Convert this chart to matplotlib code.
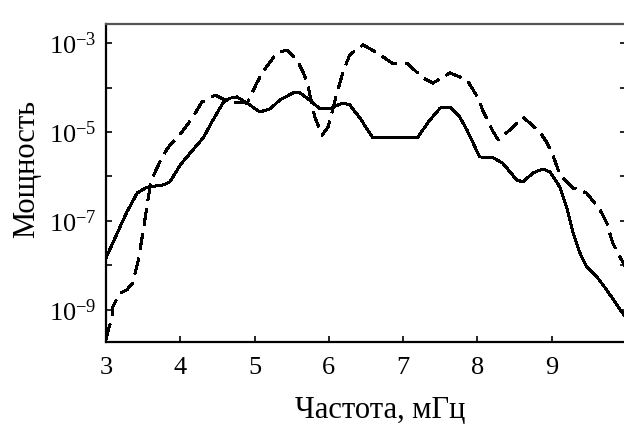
import matplotlib
matplotlib.use('Agg')
import numpy as np
import matplotlib.pyplot as plt
from matplotlib.ticker import FixedLocator, FuncFormatter

plt.rcParams['font.family'] = ['Liberation Serif', 'DejaVu Serif']
plt.rcParams['mathtext.fontset'] = 'custom'
plt.rcParams['mathtext.rm'] = 'Liberation Serif'
plt.rcParams['lines.scale_dashes'] = False

# frequency (MHz) and log10 of power for both spectra
solid_f = [3.00, 3.19, 3.28, 3.42, 3.55, 3.77, 3.86, 4.00, 4.17, 4.31, 4.44, 4.58,
           4.67, 4.76, 4.90, 5.07, 5.21, 5.34, 5.52, 5.61, 5.74, 5.88, 6.01, 6.18,
           6.28, 6.42, 6.59, 6.82, 7.19, 7.36, 7.50, 7.63, 7.76, 7.86, 8.03, 8.21,
           8.34, 8.53, 8.61, 8.75, 8.88, 8.98, 9.11, 9.20, 9.29, 9.38, 9.47, 9.61,
           9.74, 9.88, 10.0]
solid_lg = [-7.83, -7.13, -6.80, -6.37, -6.24, -6.19, -6.12, -5.74, -5.40, -5.13,
            -4.73, -4.33, -4.24, -4.21, -4.35, -4.55, -4.48, -4.28, -4.12, -4.12,
            -4.28, -4.48, -4.48, -4.35, -4.39, -4.69, -5.13, -5.13, -5.13, -4.73,
            -4.46, -4.44, -4.66, -4.96, -5.56, -5.58, -5.70, -6.08, -6.12, -5.92,
            -5.83, -5.90, -6.24, -6.69, -7.27, -7.72, -8.03, -8.26, -8.55, -8.89,
            -9.18]

dash_f = [3.00, 3.03, 3.08, 3.09, 3.19, 3.28, 3.36, 3.43, 3.48, 3.55, 3.59, 3.63,
          3.75, 3.83, 4.02, 4.16, 4.29, 4.47, 4.60, 4.71, 4.90, 5.03, 5.11, 5.30,
          5.44, 5.57, 5.64, 5.71, 5.75, 5.81, 5.91, 5.99, 6.11, 6.19, 6.28, 6.46,
          6.65, 6.85, 7.05, 7.27, 7.40, 7.63, 7.86, 8.01, 8.07, 8.20, 8.28, 8.48,
          8.61, 8.84, 8.94, 9.04, 9.11, 9.29, 9.47, 9.65, 9.74, 9.82, 9.92, 10.0]
dash_lg = [-9.67, -9.45, -9.18, -8.93, -8.62, -8.55, -8.39, -7.92, -7.43, -6.69,
           -6.26, -6.01, -5.58, -5.36, -5.00, -4.69, -4.33, -4.17, -4.28, -4.33,
           -4.35, -3.90, -3.65, -3.22, -3.16, -3.38, -3.61, -3.88, -4.21, -4.66,
           -5.07, -4.89, -4.12, -3.65, -3.27, -3.04, -3.22, -3.45, -3.45, -3.79,
           -3.90, -3.67, -3.83, -4.24, -4.51, -4.96, -5.18, -4.89, -4.66, -5.00,
           -5.25, -5.63, -5.97, -6.26, -6.37, -6.75, -7.04, -7.49, -7.81, -8.06]

x_ticks = [3, 4, 5, 6, 7, 8, 9, 10]
x_labels = ['3', '4', '5', '6', '7', '8', '9', '']
y_decades = [-9, -8, -7, -6, -5, -4, -3]

fig = plt.figure(figsize=(6.24, 4.25), dpi=100)
ax = fig.add_axes([0.1699, 0.1953, 0.8333, 0.7482])

ax.plot(solid_f, 10.0 ** np.array(solid_lg), color='black', lw=1.4, antialiased=False)
ax.plot(dash_f, 10.0 ** np.array(dash_lg), color='black', lw=1.3,
        dashes=(12, 6), antialiased=False)

ax.set_yscale('log')
ax.set_xlim(3, 10)
ax.set_ylim(10 ** -9.72, 10 ** -2.573)

ax.set_xticks(x_ticks, x_labels)
ax.xaxis.set_minor_locator(FixedLocator([]))
ax.yaxis.set_major_locator(FixedLocator([10.0 ** d for d in y_decades]))
ax.yaxis.set_minor_locator(FixedLocator([]))


def decade_label(v, pos):
    # only odd decades carry a label
    d = int(round(np.log10(v)))
    if d % 2 == 0:
        return ''
    return r'$\mathregular{10^{%d}}$' % d


ax.yaxis.set_major_formatter(FuncFormatter(decade_label))
ax.tick_params(axis='both', direction='in', length=4, width=1.2, labelsize=19,
               color='black')
ax.tick_params(axis='y', right=True, pad=7)
ax.tick_params(axis='x', pad=11)

for side in ('left', 'bottom'):
    ax.spines[side].set_linewidth(1.6)
    ax.spines[side].set_color('black')
ax.spines['top'].set_linewidth(1.6)
ax.spines['top'].set_color('#555555')
ax.spines['right'].set_visible(False)

fig.text(0.042, 0.602, 'Мощность', rotation=90, ha='center', va='center', fontsize=22)
fig.text(0.609, 0.035, 'Частота, мГц', ha='center', va='center', fontsize=22)

fig.savefig('out.png', dpi=100)
